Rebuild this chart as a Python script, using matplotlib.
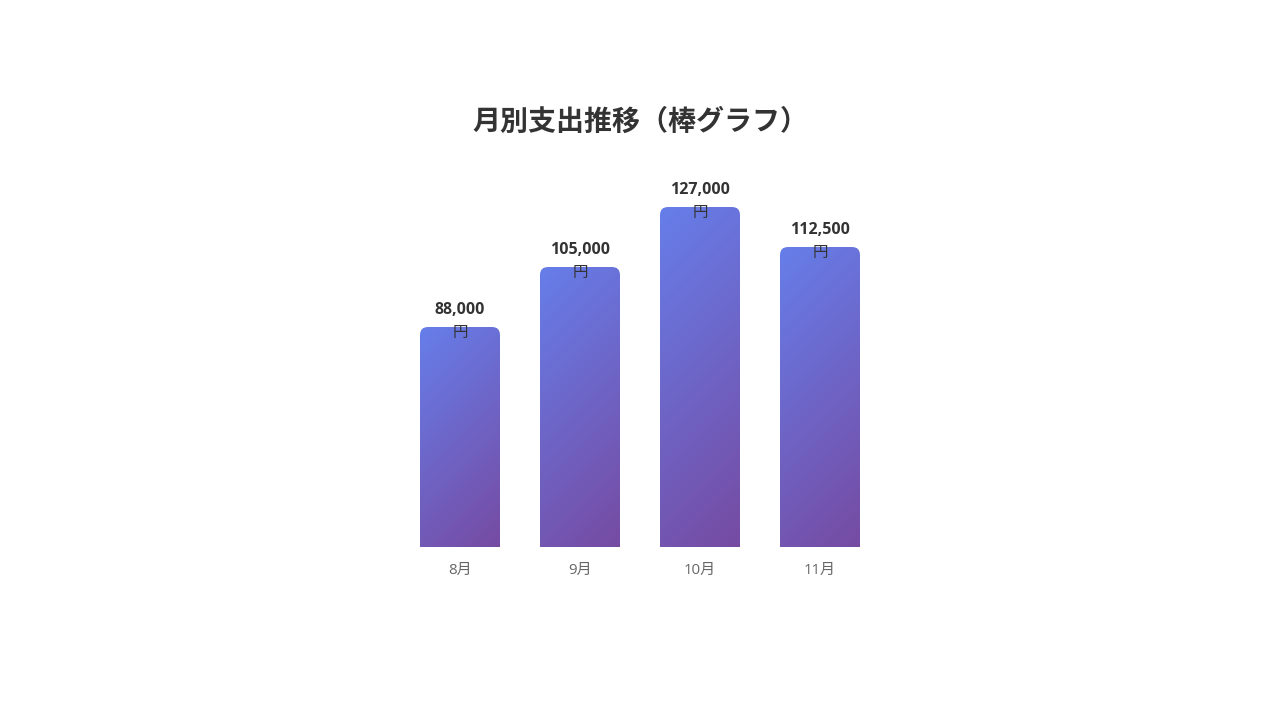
import numpy as np
import matplotlib
matplotlib.use('Agg')
import matplotlib.pyplot as plt
from matplotlib.patches import FancyBboxPatch

plt.rcParams['font.family'] = ['Open Sans', 'Noto Sans CJK JP', 'DejaVu Sans']

# データ
months = ['8月', '9月', '10月', '11月']
amounts = [88000, 105000, 127000, 112500]
# 棒の高さ（コンテナに対する%）
bar_heights = [55, 70, 85, 75]

title = '月別支出推移（棒グラフ）'

PX = 0.72  # px -> pt (dpi 100)


def grad_image(w, h, c1, c2):
    # 135deg の線形グラデーション（左上 -> 右下）
    xs = np.arange(w)[None, :]
    ys = np.arange(h)[:, None]
    t = (xs + ys) / (w + h - 2)
    c1 = np.array(matplotlib.colors.to_rgb(c1))
    c2 = np.array(matplotlib.colors.to_rgb(c2))
    return c1 + (c2 - c1) * t[..., None]


def main():
    fig = plt.figure(figsize=(12.8, 7.2), dpi=100)
    fig.patch.set_facecolor('white')

    # 400px高さ、480px幅のプロット領域
    ax = fig.add_axes([400 / 1280, (720 - 547) / 720, 480 / 1280, 400 / 720])
    ax.set_xlim(-0.5, len(months) - 0.5)
    ax.set_ylim(0, 100)
    ax.axis('off')

    bw = 80 / 120
    r = 8 / 120
    for i, (h, v) in enumerate(zip(bar_heights, amounts)):
        x0 = i - bw / 2
        patch = FancyBboxPatch((x0, -5), bw, h + 5,
                               boxstyle=f'round,pad=0,rounding_size={r}',
                               mutation_aspect=30,
                               facecolor='none', edgecolor='none')
        ax.add_patch(patch)
        img = grad_image(80, int(h * 4), '#667eea', '#764ba2')
        im = ax.imshow(img, extent=(x0, x0 + bw, 0, h), origin='upper',
                       aspect='auto', interpolation='bilinear', zorder=2)
        im.set_clip_path(patch)

        ax.annotate(f'{v:,}', (i, h), xytext=(0, 17.5 * PX), textcoords='offset points',
                    ha='center', va='center', fontsize=16 * PX, fontweight='bold',
                    color='#333333', zorder=3)
        ax.annotate('円', (i, h), xytext=(0, -5.5 * PX), textcoords='offset points',
                    ha='center', va='center', fontsize=15.5 * PX, fontweight='normal',
                    color='#333333', zorder=3)

        ax.annotate(months[i], (i, 0), xytext=(0, -23.5 * PX), textcoords='offset points',
                    ha='center', va='center', fontsize=15 * PX, color='#666666',
                    annotation_clip=False)

    fig.text(0.5, 1 - 122 / 720, title, ha='center', va='center',
             fontsize=28 * PX, fontweight='bold', color='#333333')

    fig.savefig('out.png', dpi=100, facecolor='white')


if __name__ == '__main__':
    main()
